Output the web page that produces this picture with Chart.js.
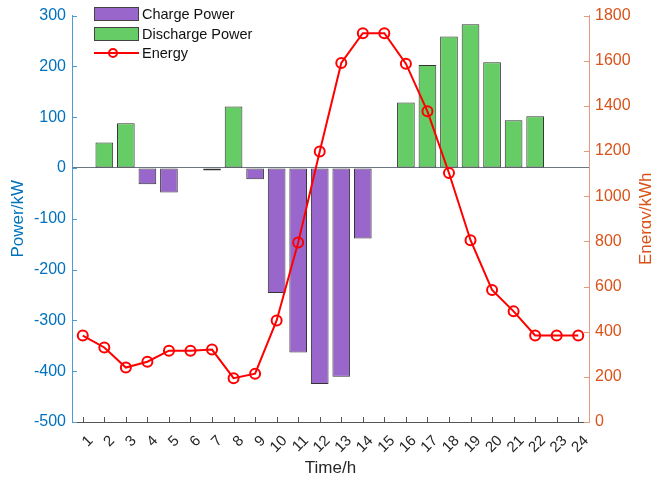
<!DOCTYPE html>
<html>
<head>
<meta charset="utf-8">
<script src="https://cdn.jsdelivr.net/npm/chart.js@4"></script>
<style>
  body { margin: 0; background: #fff; font-family: 'Liberation Sans', Arial, sans-serif; }
  #wrap { position: relative; width: 651px; height: 479px; }
  #legend { position: absolute; left: 94px; top: 6px; font-size: 14.5px; color: #111; }
  .item { position: absolute; left: 0; height: 16px; white-space: nowrap; }
  .sw { position: absolute; left: 0; width: 43px; height: 12px; border: 1px solid #444; }
  .lbl { position: absolute; left: 48px; top: 0; line-height: 16px; }
</style>
</head>
<body>
<div id="wrap">
  <canvas id="chart" width="651" height="479"></canvas>
  <div id="legend">
    <div class="item" style="top:0"><div class="sw" style="top:1px;background:#9966cc"></div><span class="lbl">Charge Power</span></div>
    <div class="item" style="top:20px"><div class="sw" style="top:1px;background:#66cc66"></div><span class="lbl">Discharge Power</span></div>
    <div class="item" style="top:39px">
      <svg width="46" height="16" style="position:absolute;left:0;top:0">
        <line x1="0" y1="8" x2="45" y2="8" stroke="#ff0000" stroke-width="2"/>
        <circle cx="19" cy="8" r="4" fill="none" stroke="#ff0000" stroke-width="2"/>
      </svg>
      <span class="lbl">Energy</span>
    </div>
  </div>
</div>
<script>
// hours 1..24
const hours = ['1','2','3','4','5','6','7','8','9','10','11','12','13','14','15','16','17','18','19','20','21','22','23','24'];
// kW, negative = charging
const chargePower = [0, 0, 0, -32, -48, 0, -5, 0, -22, -246, -363, -425, -411, -139, 0, 0, 0, 0, 0, 0, 0, 0, 0, 0];
const dischargePower = [0, 50, 88, 0, 0, 0, 0, 121, 0, 0, 0, 0, 0, 0, 0, 129, 203, 259, 283, 208, 94, 102, 0, 0];
// kWh stored
const energy = [383, 330, 241, 267, 316, 316, 321, 194, 214, 450, 795, 1198, 1590, 1722, 1722, 1587, 1376, 1103, 805, 585, 490, 383, 383, 383];

const leftColor = '#0072BD';
const rightColor = '#D95319';
const darkText = '#262626';
const FONT = "'Liberation Sans', Arial, sans-serif";

// MATLAB-style inward ticks + right label reading bottom-to-top
const axisDecor = {
    id: 'axisDecor',
    afterDraw(chart) {
        const { ctx, chartArea: a, scales } = chart;
        ctx.save();
        ctx.lineWidth = 1;

        ctx.strokeStyle = '#4d9bd1';
        scales.y.ticks.forEach((t, i) => {
            const py = Math.round(scales.y.getPixelForTick(i)) + 0.5;
            ctx.beginPath(); ctx.moveTo(a.left, py); ctx.lineTo(a.left + 5, py); ctx.stroke();
        });

        ctx.strokeStyle = '#e59a7a';
        scales.y1.ticks.forEach((t, i) => {
            const py = Math.round(scales.y1.getPixelForTick(i)) + 0.5;
            ctx.beginPath(); ctx.moveTo(a.right, py); ctx.lineTo(a.right - 5, py); ctx.stroke();
        });

        ctx.strokeStyle = '#555';
        scales.x.ticks.forEach((t, i) => {
            const px = Math.round(scales.x.getPixelForTick(i)) + 0.5;
            ctx.beginPath(); ctx.moveTo(px, a.bottom); ctx.lineTo(px, a.bottom - 5); ctx.stroke();
        });

        ctx.translate(646, (a.top + a.bottom) / 2);
        ctx.rotate(-Math.PI / 2);
        ctx.fillStyle = rightColor;
        ctx.font = '17px ' + FONT;
        ctx.textAlign = 'center';
        ctx.textBaseline = 'middle';
        ctx.fillText('Energy/kWh', 0, 0);
        ctx.restore();
    }
};

const ctx = document.getElementById('chart').getContext('2d');
new Chart(ctx, {
    data: {
        labels: hours,
        datasets: [
            {
                type: 'line',
                label: 'Energy',
                data: energy,
                yAxisID: 'y1',
                borderColor: '#ff0000',
                borderWidth: 2,
                pointRadius: 5,
                pointBorderWidth: 2,
                pointBackgroundColor: 'rgba(0,0,0,0)',
                pointBorderColor: '#ff0000',
                tension: 0,
                order: 0
            },
            {
                type: 'bar',
                label: 'Charge Power',
                data: chargePower,
                yAxisID: 'y',
                stack: 'p',
                backgroundColor: '#9966cc',
                borderColor: '#333',
                borderWidth: 1,
                borderSkipped: false,
                categoryPercentage: 1,
                barPercentage: 0.82,
                order: 1
            },
            {
                type: 'bar',
                label: 'Discharge Power',
                data: dischargePower,
                yAxisID: 'y',
                stack: 'p',
                backgroundColor: '#66cc66',
                borderColor: '#333',
                borderWidth: 1,
                borderSkipped: false,
                categoryPercentage: 1,
                barPercentage: 0.82,
                order: 1
            }
        ]
    },
    options: {
        responsive: false,
        devicePixelRatio: 1,
        animation: false,
        layout: { padding: { top: 11, left: 0, right: 0, bottom: 0 } },
        plugins: {
            legend: { display: false },
            tooltip: { enabled: false }
        },
        scales: {
            x: {
                stacked: true,
                grid: { display: false, drawTicks: false },
                border: { color: '#555', width: 1 },
                ticks: {
                    color: darkText,
                    font: { family: FONT, size: 15 },
                    minRotation: 45,
                    maxRotation: 45,
                    padding: 10,
                    labelOffset: 8,
                    autoSkip: false
                },
                title: {
                    display: true,
                    text: 'Time/h',
                    color: darkText,
                    font: { family: FONT, size: 17 },
                    padding: { top: 0, bottom: 0 }
                },
                afterFit(scale) { scale.height = 57; }
            },
            y: {
                type: 'linear',
                position: 'left',
                stacked: true,
                min: -500,
                max: 300,
                grid: {
                    drawTicks: false,
                    color: c => (c.tick && c.tick.value === 0 ? '#6b7780' : 'rgba(0,0,0,0)')
                },
                border: { color: '#4d9bd1', width: 1 },
                ticks: {
                    stepSize: 100,
                    color: leftColor,
                    padding: 6,
                    font: { family: FONT, size: 16 },
                    callback: v => String(v)
                },
                title: {
                    display: true,
                    text: 'Power/kW',
                    color: leftColor,
                    font: { family: FONT, size: 17 },
                    padding: { top: 8, bottom: 0 }
                },
                afterFit(scale) { scale.width = 72; }
            },
            y1: {
                type: 'linear',
                position: 'right',
                min: 0,
                max: 1800,
                grid: { display: false, drawTicks: false },
                border: { color: '#e59a7a', width: 1 },
                ticks: {
                    stepSize: 200,
                    color: rightColor,
                    padding: 6,
                    font: { family: FONT, size: 16 },
                    callback: v => String(v)
                },
                afterFit(scale) { scale.width = 62; }
            }
        }
    },
    plugins: [axisDecor]
});
</script>
</body>
</html>
